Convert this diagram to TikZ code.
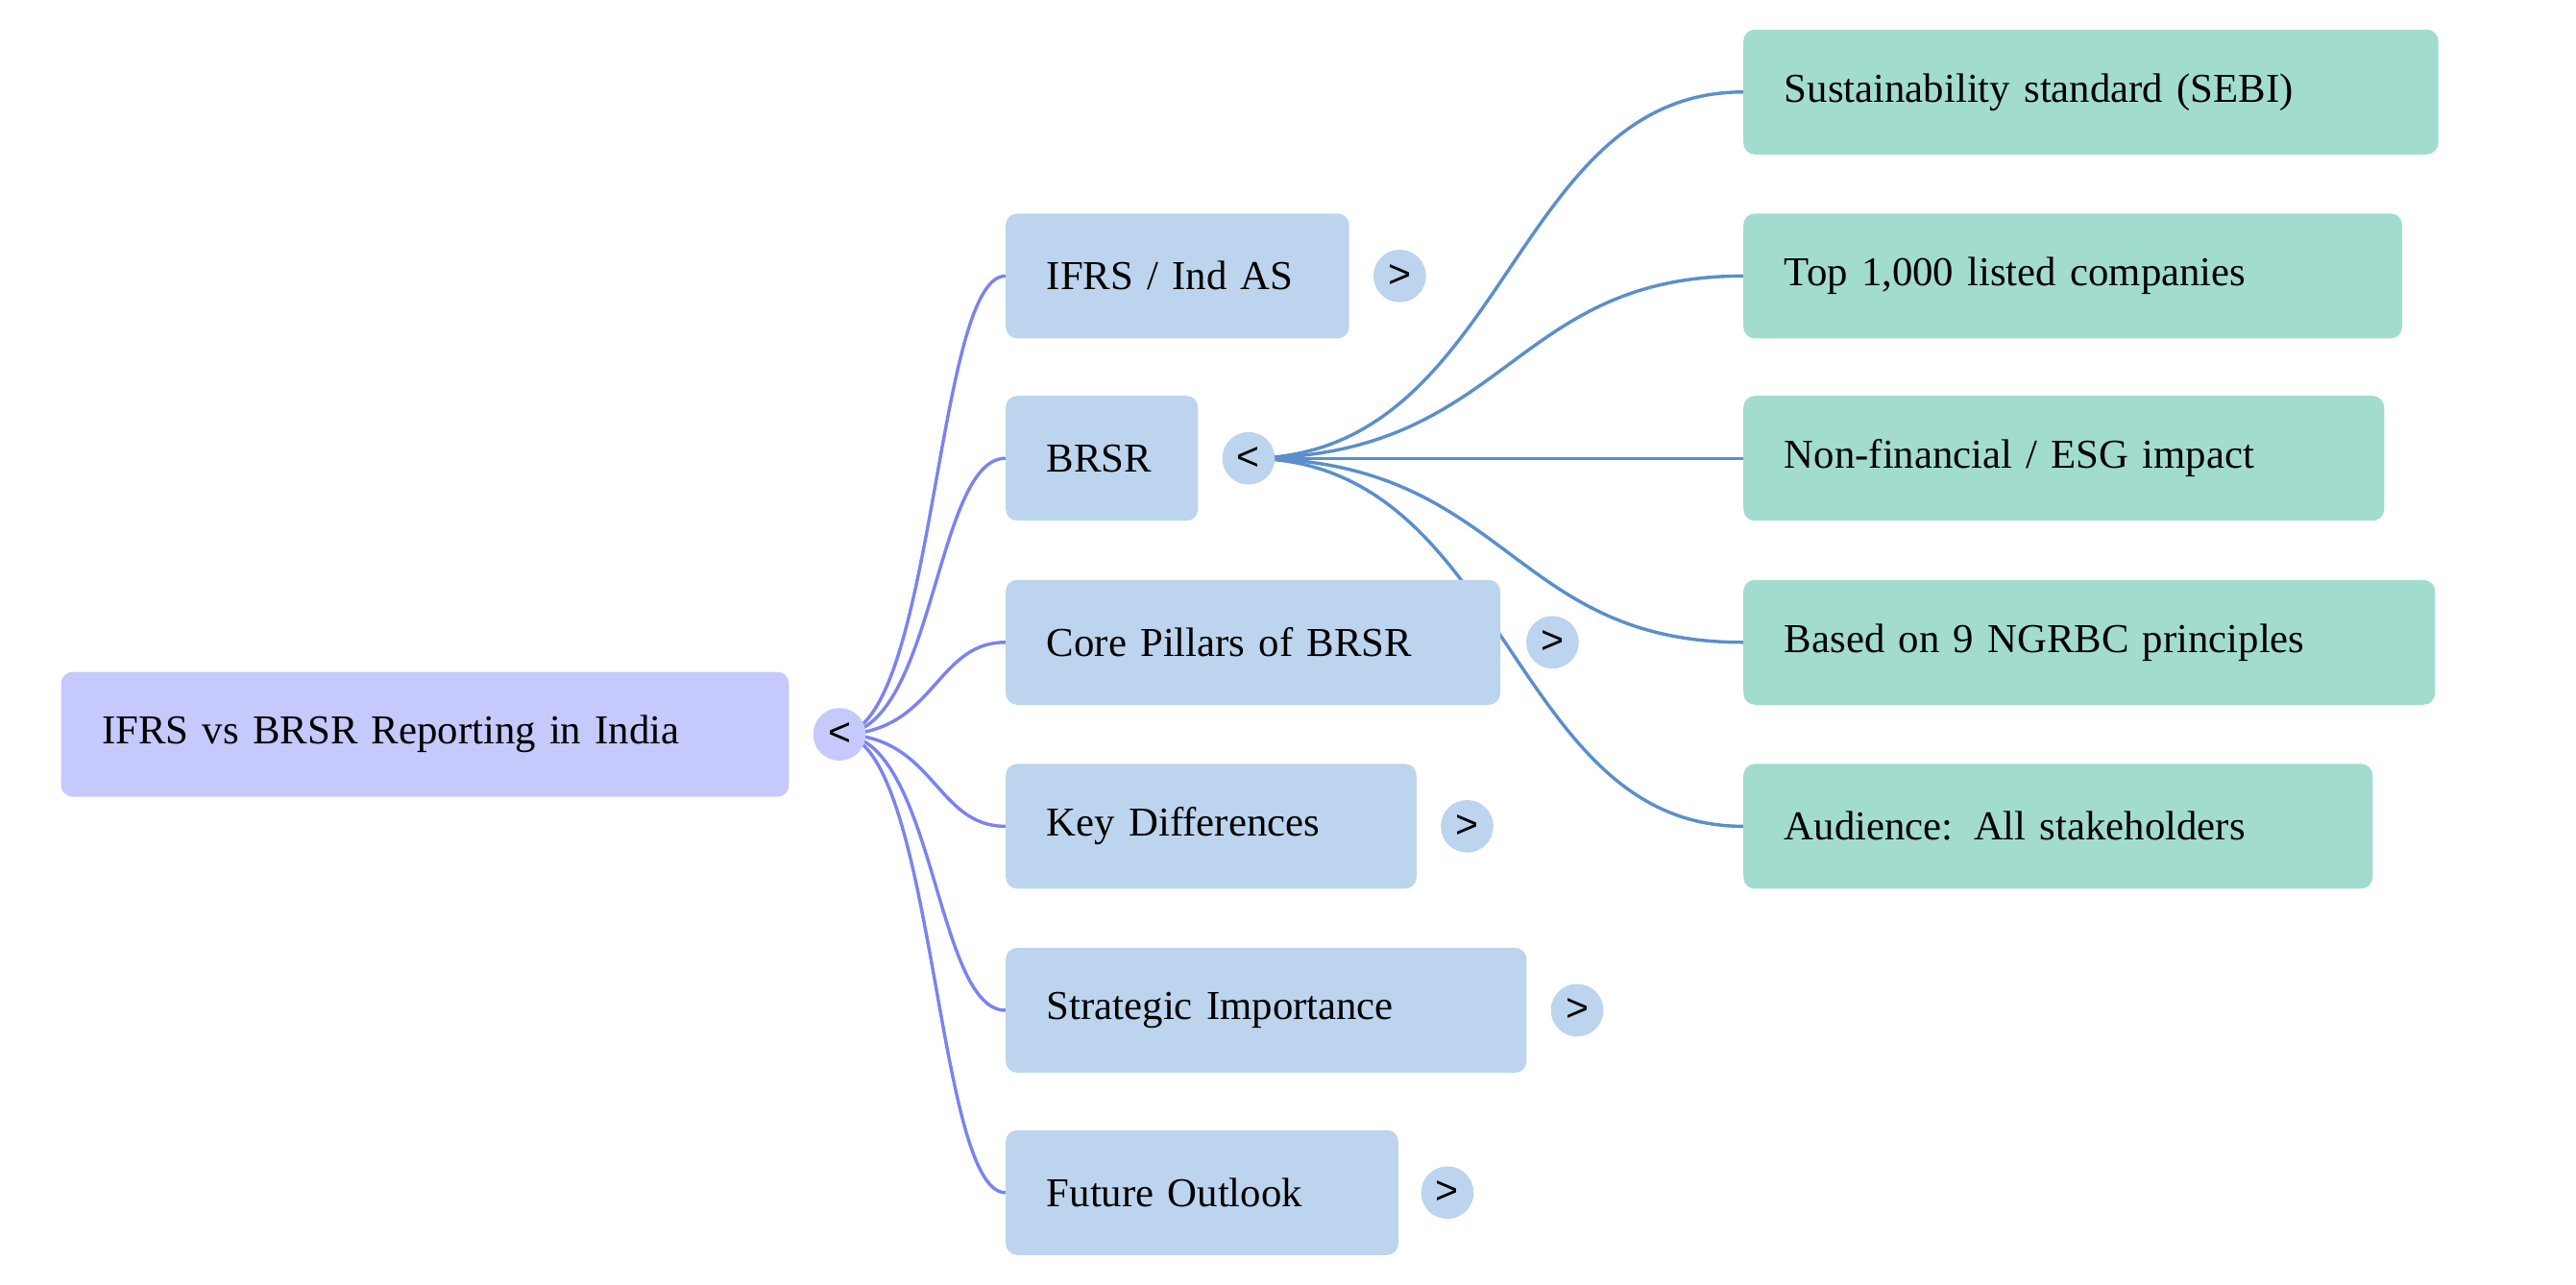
\documentclass[tikz,border=0pt]{standalone}
\usepackage{fontspec}
\setmainfont{Liberation Serif}
\newfontfamily\togglefont{Liberation Sans}
\definecolor{rootfill}{HTML}{C5C9FC}
\definecolor{branchfill}{HTML}{BCD4EE}
\definecolor{leaffill}{HTML}{A2DCCF}
\definecolor{rootedge}{HTML}{7B83F0}
\definecolor{branchedge}{HTML}{5A8FCC}
\tikzset{
  box/.style={rectangle, rounded corners=7pt, anchor=west, minimum height=76pt,
    inner xsep=25pt, text width=#1, align=left, font=\fontsize{25}{30}\selectfont},
  toggle/.style={circle, minimum size=32pt, inner sep=0pt, font=\togglefont\fontsize{24}{28}\selectfont},
  link/.style={line width=2pt}
}
\begin{document}
\begin{tikzpicture}[x=1pt,y=-1pt]
  \useasboundingbox (0,0) rectangle (1568,782);
  % root and toggles
  \coordinate (rootc) at (511,447);
  \coordinate (brsrc) at (760,279);
  % links from root
  \foreach \y in {168,279,391,503,615,726}
    \draw[link,rootedge] (rootc) .. controls (569,447) and (569,\y) .. (612,\y);
  % links from BRSR
  \foreach \y in {56,168,279,391,503}
    \draw[link,branchedge] (brsrc) .. controls (918,279) and (918,\y) .. (1061,\y);
  \node[box=393pt, fill=rootfill] (root) at (37,447) {IFRS vs BRSR Reporting in India};
  \node[box=159pt, fill=branchfill] (ifrs) at (612,168) {IFRS / Ind AS};
  \node[box=67pt, fill=branchfill] (brsr) at (612,279) {BRSR};
  \node[box=251pt, fill=branchfill] (pillars) at (612,391) {Core Pillars of BRSR};
  \node[box=200pt, fill=branchfill] (diff) at (612,503) {Key Differences};
  \node[box=267pt, fill=branchfill] (strat) at (612,615) {Strategic Importance};
  \node[box=189pt, fill=branchfill] (future) at (612,726) {Future Outlook};
  \node[box=373pt, fill=leaffill] (sebi) at (1061,56) {Sustainability standard (SEBI)};
  \node[box=351pt, fill=leaffill] (top) at (1061,168) {Top 1,000 listed companies};
  \node[box=340pt, fill=leaffill] (esg) at (1061,279) {Non-financial / ESG impact};
  \node[box=371pt, fill=leaffill] (ngrbc) at (1061,391) {Based on 9 NGRBC principles};
  \node[box=333pt, fill=leaffill] (aud) at (1061,503) {Audience: All stakeholders};
  % toggles
  \node[toggle, fill=rootfill] (troot) at (rootc) {<};
  \node[toggle, fill=branchfill] (tbrsr) at (brsrc) {<};
  \node[toggle, fill=branchfill] (tifrs) at (852,168) {>};
  \node[toggle, fill=branchfill] (tpillars) at (945,391) {>};
  \node[toggle, fill=branchfill] (tdiff) at (893,503) {>};
  \node[toggle, fill=branchfill] (tstrat) at (960,615) {>};
  \node[toggle, fill=branchfill] (tfuture) at (881,726) {>};
\end{tikzpicture}
\end{document}
